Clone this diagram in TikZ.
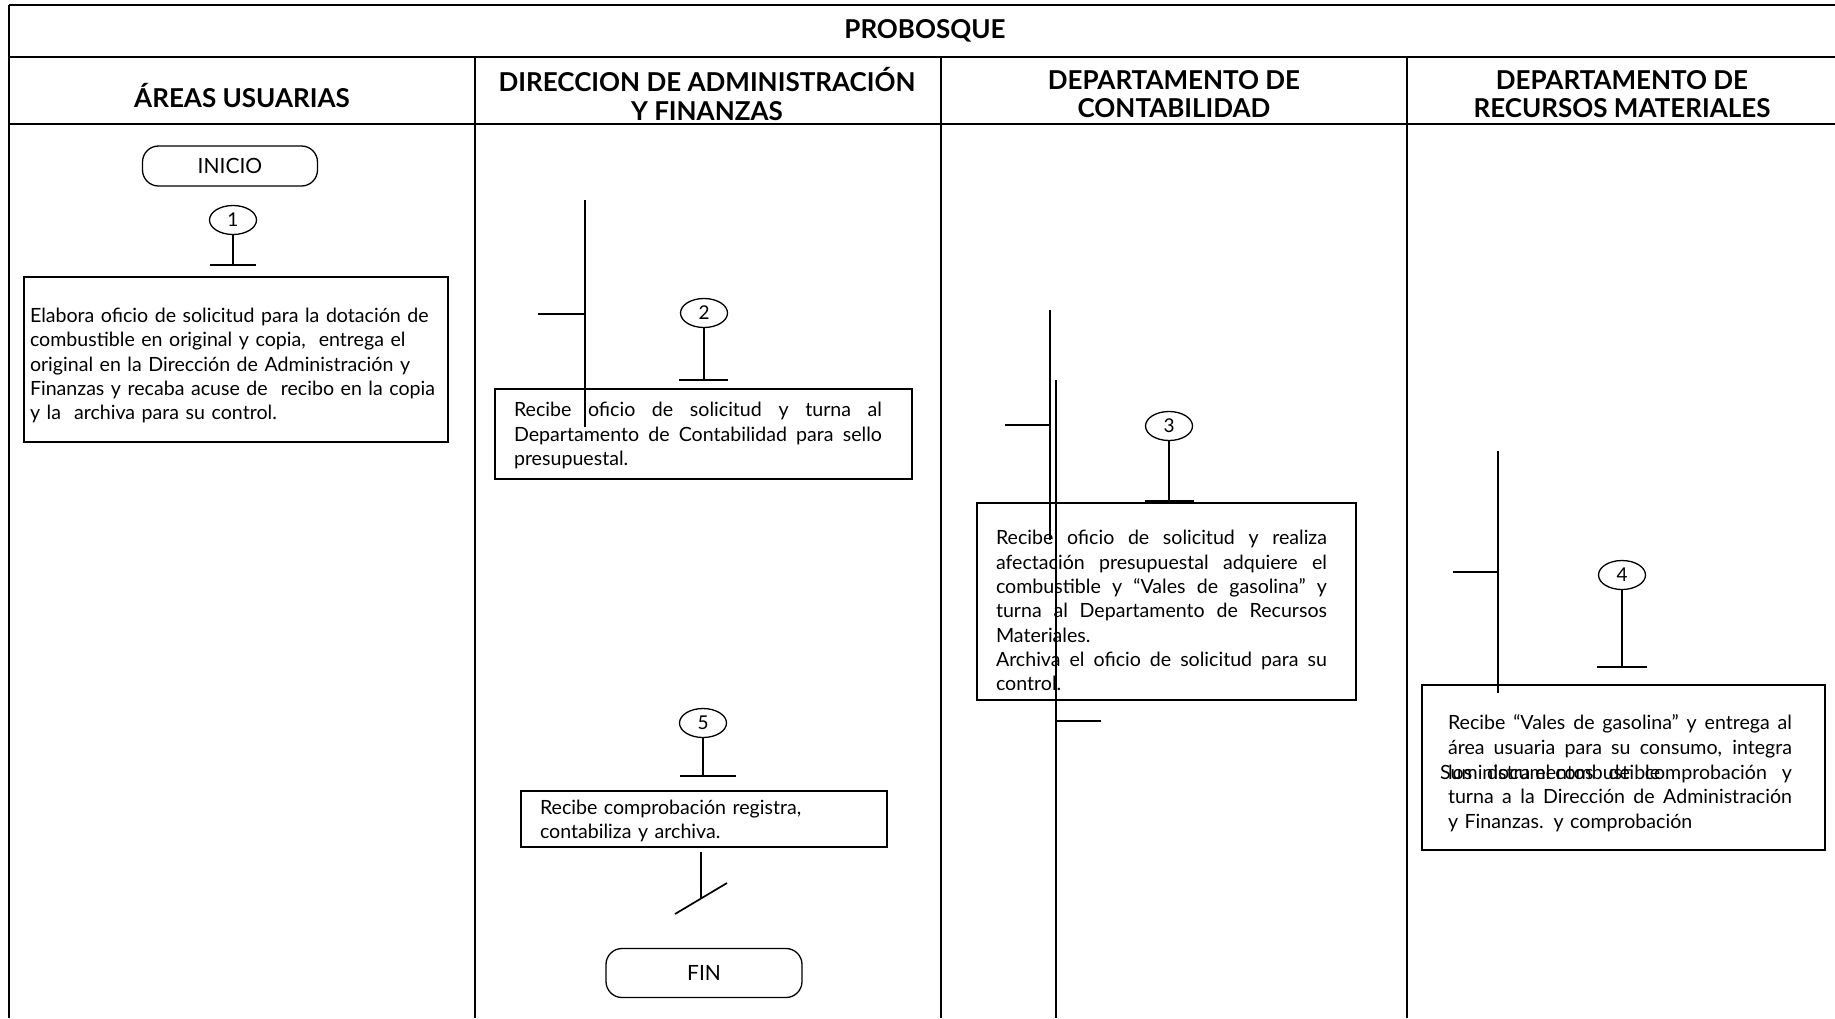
\documentclass[tikz,border=0pt]{standalone}
\usepackage{fontspec}
\setmainfont{Lato}
\usetikzlibrary{shapes.geometric}
\newcommand{\jln}[2]{\leavevmode\hbox to #1{\spaceskip=0.25em plus 1fil\relax #2}}
\begin{document}
\begin{tikzpicture}[x=1pt,y=-1pt,
  frameh/.style={line width=2.4pt},
  framev/.style={line width=1.8pt},
  box/.style={draw, line width=1.5pt, rectangle, inner ysep=0pt, align=left, font=\fontsize{19.6}{24.3}\selectfont},
  conn/.style={line width=1.7pt},
  num/.style={draw, ellipse, line width=1.3pt, minimum width=47pt, minimum height=29pt, inner sep=0pt, font=\fontsize{19}{20}\selectfont},
  term/.style={draw, rounded corners=16pt, line width=1.3pt, inner sep=0pt, font=\fontsize{21}{22}\selectfont},
  head/.style={font=\bfseries\fontsize{26}{28.5}\selectfont, align=center, inner sep=0pt},
  txt/.style={inner sep=0pt, font=\fontsize{19.6}{24.3}\selectfont}
]
\useasboundingbox (0,0) rectangle (1835,1018);
\fill[white] (0,0) rectangle (1835,1018);

% frame
\coordinate (f1) at (9,5);   \coordinate (f2) at (1835,5);
\coordinate (f3) at (9,57);  \coordinate (f4) at (1835,57);
\coordinate (f5) at (9,124); \coordinate (f6) at (1835,124);
\coordinate (f7) at (9,1018);
\coordinate (d1t) at (475,57);  \coordinate (d1b) at (475,1018);
\coordinate (d2t) at (941,57);  \coordinate (d2b) at (941,1018);
\coordinate (d3t) at (1407,57); \coordinate (d3b) at (1407,1018);
\draw[frameh] (f1) -- (f2);
\draw[frameh] (f3) -- (f4);
\draw[frameh] (f5) -- (f6);
\draw[framev] (f1) -- (f7);
\draw[framev] (d1t) -- (d1b);
\draw[framev] (d2t) -- (d2b);
\draw[framev] (d3t) -- (d3b);

% headers
\node[head] (title) at (925,31) {PROBOSQUE};
\node[head] (h1) at (242,96) {ÁREAS USUARIAS};
\node[head] (h2) at (707,94) {DIRECCION DE ADMINISTRACIÓN\\Y FINANZAS};
\node[head] (h3) at (1174,94) {DEPARTAMENTO DE\\CONTABILIDAD};
\node[head] (h4) at (1622,94) {DEPARTAMENTO DE\\RECURSOS MATERIALES};

% lane 1
\node[term, minimum width=175pt, minimum height=40pt] (inicio) at (230,166) {INICIO};
\node[num] (c1) at (233,220) {1};
\coordinate (b1) at (233,265);
\coordinate (b1l) at (210,265); \coordinate (b1r) at (256,265);
\draw[conn] (c1.south) -- (b1);
\draw[conn] (b1l) -- (b1r);
\node[box, minimum width=424pt, minimum height=165pt, inner xsep=6pt, text width=412pt] (box1) at (236,359.5)
{\rule{0pt}{26.7pt}Elabora oficio de solicitud para la dotación de\\
combustible en original y copia,\ \ entrega el\\
original en la Dirección de Administración y\\
Finanzas y recaba acuse de\ \ recibo en la copia\\
y la\ \ archiva para su control.};

% lane 2
\coordinate (v2t) at (585,200); \coordinate (v2b) at (585,427);
\coordinate (t2l) at (538,314); \coordinate (t2r) at (585,314);
\node[num] (c2) at (704,313) {2};
\coordinate (b2) at (704,380);
\coordinate (b2l) at (679,380); \coordinate (b2r) at (728,380);
\node[box, minimum width=417pt, minimum height=90pt, inner xsep=19pt, text width=379pt, font=\fontsize{19.6}{24.6}\selectfont] (box2) at (703.5,434)
{\jln{368pt}{\rule{0pt}{17.5pt}Recibe oficio de solicitud y turna al}\\
\jln{368pt}{Departamento de Contabilidad para sello}\\
presupuestal.};
\draw[conn] (c2.south) -- (b2);
\draw[conn] (b2l) -- (b2r);
\draw[conn] (v2t) -- (v2b);
\draw[conn] (t2l) -- (t2r);

\node[num] (c5) at (703,723) {5};
\coordinate (b5) at (703,776);
\coordinate (b5l) at (680,776); \coordinate (b5r) at (736,776);
\draw[conn] (c5.south) -- (b5);
\draw[conn] (b5l) -- (b5r);
\node[box, minimum width=366pt, minimum height=56pt, inner xsep=19pt, text width=328pt] (box5) at (704,819)
{\rule{0pt}{19pt}Recibe comprobación registra,\\
contabiliza y archiva.};
\coordinate (v5t) at (701,852); \coordinate (v5b) at (701,898.5);
\coordinate (g1) at (675,914); \coordinate (g2) at (727,883);
\draw[conn] (v5t) -- (v5b);
\draw[conn] (g1) -- (g2);
\node[term, minimum width=196pt, minimum height=49pt] (fin) at (704,973) {FIN};

% lane 3
\coordinate (v3t) at (1050,310); \coordinate (v3b) at (1050,540);
\coordinate (t3l) at (1005,425); \coordinate (t3r) at (1050,425);
\coordinate (w3t) at (1056,380); \coordinate (w3b) at (1056,1018);
\coordinate (u3l) at (1056,721); \coordinate (u3r) at (1101,721);
\node[num] (c3) at (1169,426) {3};
\coordinate (b3) at (1169,501);
\coordinate (b3l) at (1145,501); \coordinate (b3r) at (1194,501);
\node[box, minimum width=379pt, minimum height=197pt, inner xsep=19pt, text width=341pt] (box3) at (1166.5,601.5)
{\jln{331pt}{\rule{0pt}{32.7pt}Recibe oficio de solicitud y realiza}\\
\jln{331pt}{afectación presupuestal adquiere el}\\
\jln{331pt}{combustible y “Vales de gasolina” y}\\
\jln{331pt}{turna al Departamento de Recursos}\\
Materiales.\\
\jln{331pt}{Archiva el oficio de solicitud para su}\\
control.};
\draw[conn] (c3.south) -- (b3);
\draw[conn] (b3l) -- (b3r);
\draw[conn] (v3t) -- (v3b);
\draw[conn] (t3l) -- (t3r);
\draw[conn, line width=2.2pt] (w3t) -- (w3b);
\draw[conn] (u3l) -- (u3r);

% lane 4
\coordinate (v4t) at (1498,451); \coordinate (v4b) at (1498,693);
\coordinate (t4l) at (1453,572); \coordinate (t4r) at (1498,572);
\node[num] (c4) at (1622,575) {4};
\coordinate (b4) at (1622,667);
\coordinate (b4l) at (1597,667); \coordinate (b4r) at (1647,667);
\node[box, minimum width=403pt, minimum height=165pt, inner xsep=26pt, text width=351pt, font=\fontsize{19.6}{24.6}\selectfont] (box4) at (1623.5,767.5)
{\jln{344pt}{\rule{0pt}{26.7pt}Recibe “Vales de gasolina” y entrega al}\\
\jln{344pt}{área usuaria para su consumo, integra}\\
\jln{344pt}{los documentos de comprobación y}\\
\jln{344pt}{turna a la Dirección de Administración}\\
y Finanzas. y comprobación};
\node[txt, anchor=base west] (sum) at (1440,779) {Suministra el combustible};
\draw[conn] (c4.south) -- (b4);
\draw[conn] (b4l) -- (b4r);
\draw[conn] (v4t) -- (v4b);
\draw[conn] (t4l) -- (t4r);
\end{tikzpicture}
\end{document}
